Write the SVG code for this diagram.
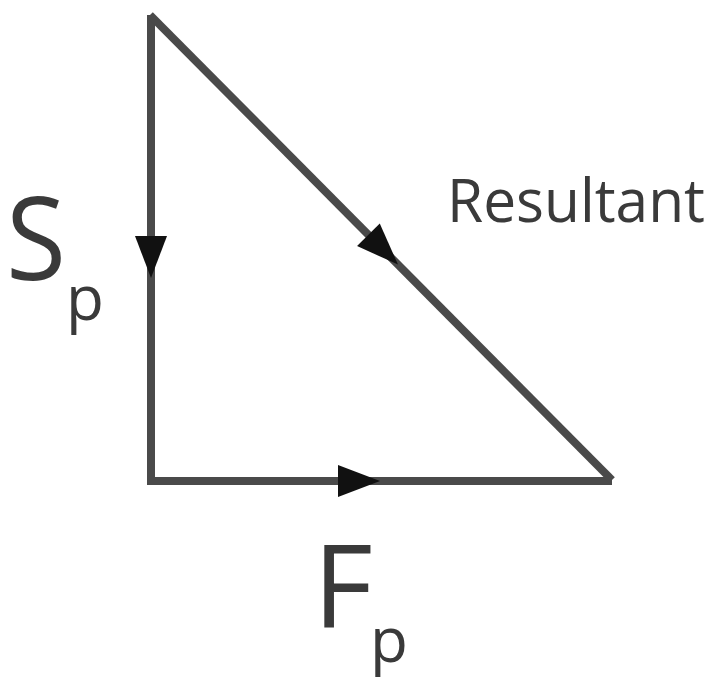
<svg xmlns="http://www.w3.org/2000/svg" width="719" height="681" viewBox="0 0 719 681">
  <style>
    .edge { stroke: #4a4a4a; stroke-width: 8; fill: none; stroke-linecap: butt; }
    .head { fill: #111; }
    .lbl { font-family: "Open Sans", "Liberation Sans", Arial, sans-serif; fill: #3a3a3a; }
  </style>
  <defs>
    <path id="arrowhead" class="head" d="M0,0 L-42,-16 L-42,16 Z"/>
  </defs>
  <rect width="719" height="681" fill="#ffffff"/>
  <g id="connectors">
    <line class="edge" x1="151" y1="15" x2="151" y2="485"/>
    <line class="edge" x1="147" y1="481" x2="612" y2="481"/>
    <line class="edge" x1="150" y1="15" x2="612" y2="480"/>
    <use href="#arrowhead" transform="translate(151,278) rotate(90)"/>
    <use href="#arrowhead" transform="translate(380,481)"/>
    <use href="#arrowhead" transform="translate(398,264.6) rotate(45.2)"/>
  </g>
  <g id="label-sp">
    <text class="lbl" x="6" y="280" font-size="116" textLength="60" lengthAdjust="spacingAndGlyphs">S</text>
    <text class="lbl" x="66" y="320" font-size="62">p</text>
  </g>
  <g id="label-resultant">
    <text class="lbl" x="447" y="222" font-size="60" textLength="258" lengthAdjust="spacingAndGlyphs" fill="#555">Resultant</text>
  </g>
  <g id="label-fp">
    <text class="lbl" x="313" y="627" font-size="116">F</text>
    <text class="lbl" x="370" y="662" font-size="62">p</text>
  </g>
</svg>
